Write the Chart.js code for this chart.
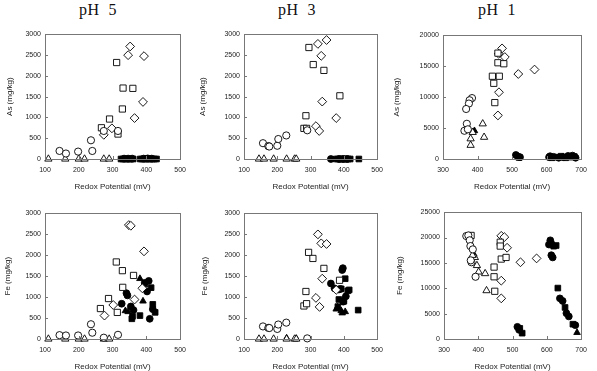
<!DOCTYPE html>
<html>
<head>
<meta charset="utf-8">
<script src="https://cdn.jsdelivr.net/npm/chart.js@4.4.1/dist/chart.umd.min.js"></script>
<style>
body { margin: 0; background: #fff; width: 597px; height: 371px; position: relative; overflow: hidden; }
canvas { position: absolute; }
.ttl { position: absolute; font-family: 'Liberation Serif', 'Times New Roman', serif; font-size: 16px; color: #111; transform: translateX(-50%); white-space: pre; letter-spacing: 0.5px; }
</style>
</head>
<body>
<div class="ttl" style="left:98px;top:1px">pH  5</div>
<div class="ttl" style="left:297px;top:1px">pH  3</div>
<div class="ttl" style="left:497px;top:1px">pH  1</div>
<canvas id="c1"></canvas><canvas id="c2"></canvas><canvas id="c3"></canvas>
<canvas id="c4"></canvas><canvas id="c5"></canvas><canvas id="c6"></canvas>
<script>
// values are [redox mV, mg/kg]
// pH 5 - As
var ph5AsCircle = [[143,194],[162,132],[198,178],[236,450],[240,193],[274,674],[316,674]];
var ph5AsSquare = [[267,751],[291,961],[312,2319],[331,1705],[329,1202],[316,600],[360,1698]];
var ph5AsDiamond = [[352,2705],[346,2496],[393,2473],[390,1372],[365,984],[298,737],[274,581]];
var ph5AsTriangle = [[110,0],[160,0],[200,0],[217,0],[274,0],[290,0]];
var ph5AsFilledSq = [[325,0],[331,0],[337,0],[343,0],[349,0],[355,0],[361,0],[382,0],[388,0],[394,0],[400,0],[406,0],[412,0],[418,0],[424,0],[430,0]];
var ph5AsFilledCi = [[334,10],[346,10],[358,10],[392,10],[404,15],[416,10]];

// pH 3 - As
var ph3AsCircle = [[157,380],[173,310],[176,300],[200,318],[203,480],[227,566],[290,690]];
var ph3AsSquare = [[295,2680],[308,2270],[340,2130],[286,1040],[280,736],[288,736],[388,1519]];
var ph3AsDiamond = [[322,2767],[348,2860],[332,2480],[335,1380],[316,790],[326,674],[377,984]];
var ph3AsTriangle = [[145,0],[160,0],[189,0],[228,0],[252,0],[257,0]];
var ph3AsFilledSq = [[377,0],[383,0],[389,0],[395,0],[401,0],[407,0],[413,0],[419,0],[445,0]];
var ph3AsFilledCi = [[361,0],[386,0],[398,0],[410,0]];

// pH 1 - As
var ph1AsCircle = [[384,9840],[377,9490],[375,8960],[367,8080],[369,5690],[362,4560],[372,4800]];
var ph1AsSquare = [[459,17100],[459,15550],[443,13370],[463,13370],[447,12230],[450,9110],[476,15390]];
var ph1AsDiamond = [[471,17870],[479,16470],[462,10780],[459,7040],[518,13730],[565,14450],[461,17000]];
var ph1AsTriangle = [[415,5690],[380,3270],[419,3520],[380,2220],[386,4300]];
var ph1AsFilledTr = [[391,4560]];
var ph1AsFilledSq = [[520,250],[615,200],[628,300],[642,450],[655,200],[668,300],[680,400]];
var ph1AsFilledCi = [[511,650],[517,400],[523,300],[607,300],[610,450],[620,350],[635,200],[648,300],[662,500],[675,550],[684,200]];

// pH 5 - Fe
var ph5FeCircle = [[143,92],[162,84],[198,84],[236,352],[240,150],[274,31],[316,100]];
var ph5FeSquare = [[311,1837],[329,1630],[330,1232],[288,965],[264,726],[314,634],[362,1516]];
var ph5FeDiamond = [[348,2717],[354,2700],[393,2090],[388,1210],[365,941],[302,811],[276,558]];
var ph5FeTriangle = [[110,0],[160,0],[200,0],[217,0],[274,0],[290,0]];
var ph5FeFilledCi = [[341,1093],[344,1040],[327,841],[354,776],[362,690],[407,1385],[402,1133],[419,711],[410,482],[395,1339]];
var ph5FeFilledSq = [[414,1224],[419,826],[426,635],[381,558],[357,482],[359,540]];
var ph5FeFilledTr = [[381,1439],[390,903],[338,673],[346,650],[395,1290]];

// pH 3 - Fe
var ph3FeCircle = [[157,300],[173,265],[176,262],[200,240],[203,345],[227,390],[290,15]];
var ph3FeSquare = [[294,2066],[307,1921],[340,1684],[286,1133],[280,788],[288,842],[387,1400]];
var ph3FeDiamond = [[322,2495],[332,2281],[348,2266],[335,1439],[316,980],[327,765],[377,1171]];
var ph3FeTriangle = [[145,0],[160,0],[189,0],[228,0],[252,0],[257,0]];
var ph3FeFilledCi = [[395,1645],[397,1690],[361,1323],[372,1208],[390,1195],[406,1018],[398,890],[385,1180]];
var ph3FeFilledSq = [[404,1438],[392,1195],[416,1171],[412,1150],[385,942],[382,772],[443,689],[400,900]];
var ph3FeFilledTr = [[377,712],[392,673],[404,650],[404,1020],[395,620],[381,760],[228,20],[257,10]];

// pH 1 - Fe
var ph1FeCircle = [[365,20300],[371,20420],[375,19460],[377,18320],[384,17670],[380,15130],[392,12270],[378,15500]];
var ph1FeSquare = [[379,20420],[464,19080],[464,18320],[467,15760],[481,16080],[446,14180],[446,12270],[448,9410]];
var ph1FeDiamond = [[467,20340],[476,20090],[484,17990],[523,15130],[570,15890],[467,11500],[467,8010]];
var ph1FeTriangle = [[390,16080],[396,14500],[401,13220],[420,12900],[424,9540],[383,16500]];
var ph1FeFilledTr = [[387,16710],[688,1260]];
var ph1FeFilledCi = [[610,19460],[613,18810],[606,18620],[613,16520],[617,16080],[638,8010],[646,7500],[657,5080],[664,4450],[683,2730],[514,2400],[519,1800]];
var ph1FeFilledSq = [[627,18430],[620,18300],[632,10040],[653,6220],[676,2920],[521,2100],[528,1150]];

var xRangeLow = [100, 500];
var xRangeHigh = [300, 700];
var yRangeSmall = [0, 3000, 500];
var yRangeAsPh1 = [0, 20000, 5000];
var yRangeFePh1 = [0, 25000, 5000];
var xTitle = 'Redox Potential (mV)';

var markers = {
  oc: { style: 'circle', r: 3.6, fill: '#fff' },
  os: { style: 'rect', r: 4.4, fill: '#fff' },
  od: { style: 'rectRot', r: 4.4, fill: '#fff' },
  ot: { style: 'triangle', r: 4.2, fill: '#fff' },
  fs: { style: 'rect', r: 4.0, fill: '#000' },
  fc: { style: 'circle', r: 3.4, fill: '#000' },
  ft: { style: 'triangle', r: 3.8, fill: '#000' }
};

// frame + inward tick marks
var framePlugin = {
  id: 'frame',
  afterDraw: function (chart) {
    var a = chart.chartArea, ctx = chart.ctx;
    ctx.save();
    ctx.strokeStyle = '#777';
    ctx.lineWidth = 1;
    ctx.strokeRect(Math.round(a.left) + 0.5, Math.round(a.top) + 0.5, Math.round(a.right - a.left), Math.round(a.bottom - a.top));
    ctx.beginPath();
    chart.scales.x.ticks.forEach(function (t) {
      var px = Math.round(chart.scales.x.getPixelForValue(t.value)) + 0.5;
      ctx.moveTo(px, a.bottom); ctx.lineTo(px, a.bottom - 3);
    });
    chart.scales.y.ticks.forEach(function (t) {
      var py = Math.round(chart.scales.y.getPixelForValue(t.value)) + 0.5;
      ctx.moveTo(a.left, py); ctx.lineTo(a.left + 3, py);
    });
    ctx.stroke();
    ctx.restore();
  }
};

function plain(v) { return String(v); }

function makePanel(id, box, xr, yr, yTitle, sets) {
  var padTop = 4, padRight = 8, xh = 33;
  var cv = document.getElementById(id);
  var left = box.L - box.yw, top = box.T - padTop;
  var w = box.R - left + padRight, h = box.B - box.T + padTop + xh;
  cv.style.left = left + 'px';
  cv.style.top = top + 'px';
  cv.width = w; cv.height = h;

  var datasets = sets.map(function (s) {
    var m = markers[s[0]];
    return {
      data: s[1].map(function (p) { return { x: p[0], y: p[1] }; }),
      pointStyle: m.style,
      pointRadius: m.r,
      pointBackgroundColor: m.fill,
      pointBorderColor: '#000',
      pointBorderWidth: 0.9,
      showLine: false,
      clip: false
    };
  });

  new Chart(cv, {
    type: 'scatter',
    data: { datasets: datasets },
    plugins: [framePlugin],
    options: {
      responsive: false,
      animation: false,
      events: [],
      layout: { padding: { left: 0, top: padTop, right: padRight, bottom: 0 } },
      plugins: { legend: { display: false }, tooltip: { enabled: false } },
      scales: {
        x: {
          type: 'linear', min: xr[0], max: xr[1],
          grid: { display: false, drawTicks: false },
          border: { display: false },
          ticks: { stepSize: 100, autoSkip: false, maxRotation: 0, padding: 7, color: '#222', callback: plain, font: { family: "'Liberation Sans', Arial, sans-serif", size: 7 } },
          title: { display: true, text: xTitle, color: '#222', padding: { top: 0, bottom: 0 }, font: { family: "'Liberation Sans', Arial, sans-serif", size: 8 } },
          afterFit: function (s) { s.height = xh; }
        },
        y: {
          type: 'linear', min: yr[0], max: yr[1],
          grid: { display: false, drawTicks: false },
          border: { display: false },
          ticks: { stepSize: yr[2], autoSkip: false, padding: 4, color: '#222', callback: plain, font: { family: "'Liberation Sans', Arial, sans-serif", size: 7 } },
          title: { display: true, text: yTitle, color: '#222', padding: { top: 0, bottom: 0 }, font: { family: "'Liberation Sans', Arial, sans-serif", size: 8 } },
          afterFit: function (s) { s.width = box.yw; }
        }
      }
    }
  });
}

makePanel('c1', { L: 45, T: 30, R: 185, B: 159, yw: 40 }, xRangeLow, yRangeSmall, 'As (mg/kg)',
  [['fs', ph5AsFilledSq], ['fc', ph5AsFilledCi], ['oc', ph5AsCircle], ['os', ph5AsSquare], ['od', ph5AsDiamond], ['ot', ph5AsTriangle]]);
makePanel('c2', { L: 244, T: 30, R: 382, B: 159, yw: 46 }, xRangeLow, yRangeSmall, 'As (mg/kg)',
  [['fs', ph3AsFilledSq], ['fc', ph3AsFilledCi], ['oc', ph3AsCircle], ['os', ph3AsSquare], ['od', ph3AsDiamond], ['ot', ph3AsTriangle]]);
makePanel('c3', { L: 443, T: 31, R: 586, B: 159, yw: 51 }, xRangeHigh, yRangeAsPh1, 'As (mg/kg)',
  [['fs', ph1AsFilledSq], ['fc', ph1AsFilledCi], ['oc', ph1AsCircle], ['os', ph1AsSquare], ['od', ph1AsDiamond], ['ot', ph1AsTriangle], ['ft', ph1AsFilledTr]]);
makePanel('c4', { L: 45, T: 209, R: 185, B: 339, yw: 42 }, xRangeLow, yRangeSmall, 'Fe (mg/kg)',
  [['oc', ph5FeCircle], ['os', ph5FeSquare], ['od', ph5FeDiamond], ['ot', ph5FeTriangle], ['fc', ph5FeFilledCi], ['fs', ph5FeFilledSq], ['ft', ph5FeFilledTr]]);
makePanel('c5', { L: 244, T: 209, R: 382, B: 339, yw: 44 }, xRangeLow, yRangeSmall, 'Fe (mg/kg)',
  [['oc', ph3FeCircle], ['os', ph3FeSquare], ['od', ph3FeDiamond], ['ot', ph3FeTriangle], ['fc', ph3FeFilledCi], ['fs', ph3FeFilledSq], ['ft', ph3FeFilledTr]]);
makePanel('c6', { L: 444, T: 208, R: 586, B: 339, yw: 49 }, xRangeHigh, yRangeFePh1, 'Fe (mg/kg)',
  [['oc', ph1FeCircle], ['os', ph1FeSquare], ['od', ph1FeDiamond], ['ot', ph1FeTriangle], ['fc', ph1FeFilledCi], ['fs', ph1FeFilledSq], ['ft', ph1FeFilledTr]]);
</script>
</body>
</html>
